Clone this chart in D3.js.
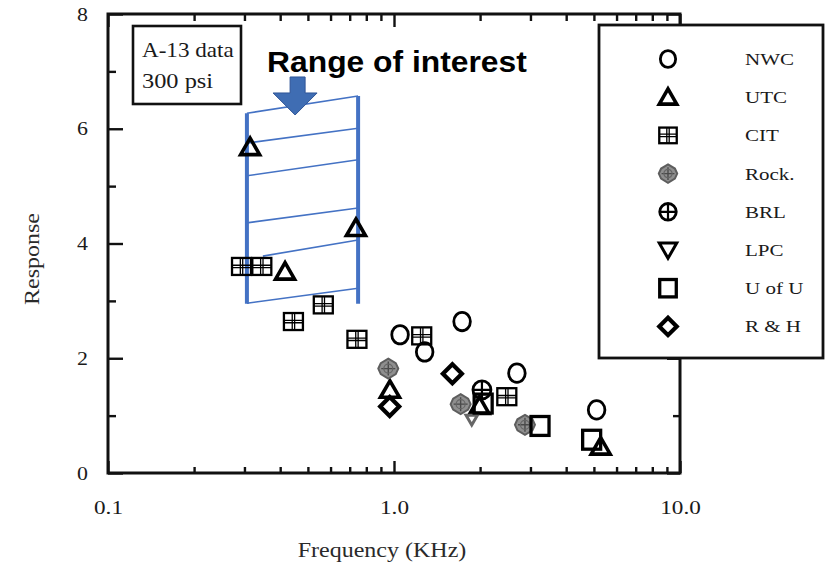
<!DOCTYPE html>
<html><head><meta charset="utf-8">
<script src="https://cdn.jsdelivr.net/npm/d3@7"></script>
<style>body{margin:0;background:#fff} svg{display:block}</style>
</head><body>
<svg id="chart" width="827" height="568"></svg>
<script>
// Measured response vs. frequency (kHz), one pair of arrays per laboratory
const nwcFreq  = [1.05, 1.28, 1.73, 2.69, 5.11];
const nwcResp  = [2.41, 2.11, 2.64, 1.74, 1.10];
const utcFreq  = [0.314, 0.416, 0.736, 0.968, 1.99, 5.28];
const utcResp  = [5.68, 3.51, 4.27, 1.45, 1.17, 0.46];
const citFreq  = [0.293, 0.345, 0.445, 0.566, 0.742, 1.25, 2.48];
const citResp  = [3.60, 3.60, 2.64, 2.93, 2.33, 2.39, 1.33];
const rockFreq = [0.955, 1.71, 2.87];
const rockResp = [1.82, 1.20, 0.84];
const brlFreq  = [2.03];
const brlResp  = [1.45];
const lpcFreq  = [1.87];
const lpcResp  = [0.93];
const uofuFreq = [2.05, 3.24, 4.91];
const uofuResp = [1.21, 0.82, 0.58];
const rhFreq   = [0.966, 1.60];
const rhResp   = [1.16, 1.73];

const seriesNames = ["NWC", "UTC", "CIT", "Rock.", "BRL", "LPC", "U of U", "R & H"];
const seriesShapes = ["circle", "triUp", "cit", "rock", "brl", "triDown", "square", "diamond"];

const xMajorTicks = [0.1, 1, 10];
const xTickLabels = ["0.1", "1.0", "10.0"];
const xMinorTicks = [0.2, 0.3, 0.4, 0.5, 0.6, 0.7, 0.8, 0.9, 2, 3, 4, 5, 6, 7, 8, 9];
const yMajorTicks = [0, 2, 4, 6, 8];
const yMinorTicks = [1, 3, 5, 7];

// Highlighted band ("Range of interest"): frequency bounds and hatch lines
const rangeFreq   = [0.306, 0.749];
const rangeTop    = [6.27, 6.57];
const rangeBottom = 2.95;
const hatchStart  = [0.306, 0.306, 0.306, 0.306, 0.348, 0.306];
const hatchLeft   = [6.27, 5.75, 5.18, 4.36, 3.78, 2.96];
const hatchRight  = [6.57, 6.01, 5.46, 4.62, 4.06, 3.22];
const arrowTip    = [0.451, 6.24];
const calloutText = "Range of interest";
const calloutAt   = [0.360, 6.99];

const insetLines = ["A-13 data", "300 psi"];
const xTitle = "Frequency (KHz)";
const yTitle = "Response";

const series = [
  {freq: nwcFreq,  resp: nwcResp},
  {freq: utcFreq,  resp: utcResp},
  {freq: citFreq,  resp: citResp},
  {freq: rockFreq, resp: rockResp},
  {freq: brlFreq,  resp: brlResp},
  {freq: lpcFreq,  resp: lpcResp},
  {freq: uofuFreq, resp: uofuResp},
  {freq: rhFreq,   resp: rhResp}
].map((s, i) => ({name: seriesNames[i], shape: seriesShapes[i],
  points: s.freq.map((f, j) => ({f, r: s.resp[j]}))}));

const svg = d3.select("#chart");
const plotL = 108, plotR = 680, plotT = 14, plotB = 473;
const x = d3.scaleLog().domain([0.1, 10]).range([plotL, plotR]);
const y = d3.scaleLinear().domain([0, 8]).range([plotB, plotT]);
const serif = "'Liberation Serif', 'Times New Roman', serif";
const ink = "#1a1a1a";

// widen text horizontally (typewriter-like face of the original plot)
function stretch(sel, k) {
  sel.each(function () {
    const w = this.getComputedTextLength();
    this.setAttribute("textLength", w * k);
    this.setAttribute("lengthAdjust", "spacingAndGlyphs");
  });
}

// Marker drawing
function drawShape(g, shape, s, color) {
  const c = color || "#000";
  if (shape === "circle") {
    g.append("ellipse").attr("rx", 8.3 * s).attr("ry", 9.2 * s)
      .attr("fill", "none").attr("stroke", c).attr("stroke-width", 2.8);
  } else if (shape === "triUp") {
    g.append("path").attr("d", `M0,${-9 * s}L${9.5 * s},${7.5 * s}L${-9.5 * s},${7.5 * s}Z`)
      .attr("fill", "none").attr("stroke", c).attr("stroke-width", 3.6).attr("stroke-linejoin", "miter");
  } else if (shape === "triDown") {
    g.append("path").attr("d", `M0,${9 * s}L${9.5 * s},${-7.5 * s}L${-9.5 * s},${-7.5 * s}Z`)
      .attr("fill", "none").attr("stroke", c).attr("stroke-width", 3).attr("stroke-linejoin", "miter");
  } else if (shape === "cit") {
    const w = 9.5 * s, h = 8.5 * s;
    g.append("rect").attr("x", -w).attr("y", -h).attr("width", 2 * w).attr("height", 2 * h)
      .attr("fill", "none").attr("stroke", c).attr("stroke-width", 2.3);
    g.append("path").attr("d", `M${-w},-1.2H${w}M${-w},1.2H${w}M-1.2,${-h}V${h}M1.2,${-h}V${h}`)
      .attr("stroke", c).attr("stroke-width", 1.3).attr("fill", "none");
  } else if (shape === "rock") {
    const r = 10 * s;
    g.append("path").attr("d", `M0,${-r}L${r * 0.75},${-r * 0.55}L${r},0L${r * 0.75},${r * 0.55}L0,${r}L${-r * 0.75},${r * 0.55}L${-r},0L${-r * 0.75},${-r * 0.55}Z`)
      .attr("fill", "#8f8f8f").attr("stroke", "#5e5e5e").attr("stroke-width", 2);
    g.append("path").attr("d", `M${-r * 0.7},0H${r * 0.7}M0,${-r * 0.7}V${r * 0.7}`)
      .attr("stroke", "#4a4a4a").attr("stroke-width", 1.4);
    g.append("ellipse").attr("rx", r * 0.45).attr("ry", r * 0.45)
      .attr("fill", "none").attr("stroke", "#666").attr("stroke-width", 1.2);
  } else if (shape === "brl") {
    const r = 9 * s;
    g.append("circle").attr("r", r).attr("fill", "none").attr("stroke", c).attr("stroke-width", 2.8);
    g.append("path").attr("d", `M${-r},0H${r}M0,${-r}V${r}`).attr("stroke", c).attr("stroke-width", 2.2);
  } else if (shape === "square") {
    const h = 9 * s;
    g.append("rect").attr("x", -h).attr("y", -h * 1.05).attr("width", 2 * h).attr("height", 2.1 * h)
      .attr("fill", "none").attr("stroke", c).attr("stroke-width", 3.3);
  } else if (shape === "diamond") {
    const r = 9.5 * s;
    g.append("path").attr("d", `M0,${-r}L${r},0L0,${r}L${-r},0Z`)
      .attr("fill", "none").attr("stroke", c).attr("stroke-width", 4.2).attr("stroke-linejoin", "miter");
  }
}

// Axes: ticks point inward on all four sides
function styleAxis(g) {
  g.select(".domain").remove();
  g.selectAll(".tick line").attr("stroke", "#111").attr("stroke-width", 2.4);
  g.selectAll("text").attr("fill", ink).attr("font-family", serif).attr("font-size", 19);
}
const gx = svg.append("g").attr("transform", `translate(0,${plotB})`)
  .call(d3.axisBottom(x).tickValues(xMajorTicks).tickSizeInner(-12).tickSizeOuter(0)
    .tickPadding(28).tickFormat((d, i) => xTickLabels[i]));
styleAxis(gx);
const gxm = svg.append("g").attr("transform", `translate(0,${plotB})`)
  .call(d3.axisBottom(x).tickValues(xMinorTicks).tickSizeInner(-6).tickSizeOuter(0).tickFormat(""));
styleAxis(gxm);
const gt = svg.append("g").attr("transform", `translate(0,${plotT})`)
  .call(d3.axisTop(x).tickValues(xMajorTicks).tickSizeInner(-13).tickSizeOuter(0).tickFormat(""));
styleAxis(gt);
const gtm = svg.append("g").attr("transform", `translate(0,${plotT})`)
  .call(d3.axisTop(x).tickValues(xMinorTicks).tickSizeInner(-7).tickSizeOuter(0).tickFormat(""));
styleAxis(gtm);
const gy = svg.append("g").attr("transform", `translate(${plotL},0)`)
  .call(d3.axisLeft(y).tickValues(yMajorTicks).tickSizeInner(-15).tickSizeOuter(0)
    .tickPadding(20).tickFormat(d3.format("d")));
styleAxis(gy);
const gym = svg.append("g").attr("transform", `translate(${plotL},0)`)
  .call(d3.axisLeft(y).tickValues(yMinorTicks).tickSizeInner(-8).tickSizeOuter(0).tickFormat(""));
styleAxis(gym);
const gr = svg.append("g").attr("transform", `translate(${plotR},0)`)
  .call(d3.axisRight(y).tickValues(yMajorTicks).tickSizeInner(-13).tickSizeOuter(0).tickFormat(""));
styleAxis(gr);
const grm = svg.append("g").attr("transform", `translate(${plotR},0)`)
  .call(d3.axisRight(y).tickValues(yMinorTicks).tickSizeInner(-7).tickSizeOuter(0).tickFormat(""));
styleAxis(grm);
stretch(gx.selectAll("text"), 1.22);
stretch(gy.selectAll("text"), 1.15);

// Plot frame
svg.append("rect").attr("x", plotL).attr("y", plotT).attr("width", plotR - plotL).attr("height", plotB - plotT)
  .attr("fill", "none").attr("stroke", "#111").attr("stroke-width", 3);

// Axis titles
const xt = svg.append("text").attr("x", 382).attr("y", 557).attr("text-anchor", "middle")
  .attr("font-family", serif).attr("font-size", 20).attr("fill", "#2a2a2a").text(xTitle);
stretch(xt, 1.2);
const yt = svg.append("text").attr("transform", "translate(39,259) rotate(-90)").attr("text-anchor", "middle")
  .attr("font-family", serif).attr("font-size", 20).attr("fill", "#2a2a2a").text(yTitle);
stretch(yt, 1.2);

// Inset note box
svg.append("rect").attr("x", plotL + 25).attr("y", plotT + 12).attr("width", 108).attr("height", 78)
  .attr("fill", "#fff").attr("stroke", "#111").attr("stroke-width", 2.6);
insetLines.forEach((t, i) => {
  const tx = svg.append("text").attr("x", plotL + 34).attr("y", plotT + 43 + i * 31)
    .attr("font-family", serif).attr("font-size", 21).attr("fill", ink).text(t);
  stretch(tx, i === 0 ? 1.1 : 1.16);
});

// Range of interest band
const blue = "#4472c4";
const band = svg.append("g");
hatchStart.forEach((f0, i) => {
  band.append("line").attr("x1", x(f0)).attr("y1", y(hatchLeft[i]))
    .attr("x2", x(rangeFreq[1])).attr("y2", y(hatchRight[i]))
    .attr("stroke", blue).attr("stroke-width", 1.6);
});
band.append("line").attr("x1", x(rangeFreq[0])).attr("x2", x(rangeFreq[0]))
  .attr("y1", y(rangeTop[0])).attr("y2", y(rangeBottom)).attr("stroke", blue).attr("stroke-width", 4);
band.append("line").attr("x1", x(rangeFreq[1])).attr("x2", x(rangeFreq[1]))
  .attr("y1", y(rangeTop[1])).attr("y2", y(rangeBottom)).attr("stroke", blue).attr("stroke-width", 4);

// Block arrow pointing at the band
const ax = x(arrowTip[0]), ay = y(arrowTip[1]);
svg.append("path")
  .attr("d", `M${ax - 5},${ay - 38}H${ax + 10}V${ay - 22}H${ax + 22}L${ax},${ay}L${ax - 22},${ay - 22}H${ax - 5}Z`)
  .attr("fill", "#3f6db3").attr("stroke", "#2f5597").attr("stroke-width", 1);

const callout = svg.append("text").attr("x", x(calloutAt[0])).attr("y", y(calloutAt[1]))
  .attr("font-family", "'Liberation Sans', Arial, sans-serif").attr("font-weight", "bold")
  .attr("font-size", 30).attr("fill", "#000").text(calloutText);
stretch(callout, 1.06);

// Data markers
series.forEach(s => {
  const muted = s.shape === "triDown";
  svg.append("g").selectAll("g").data(s.points).join("g")
    .attr("transform", d => `translate(${x(d.f)},${y(d.r)})`)
    .each(function () { drawShape(d3.select(this), s.shape, muted ? 0.6 : 1, muted ? "#666" : "#000"); });
});

// Legend
const lg = svg.append("g");
lg.append("rect").attr("x", 599).attr("y", 25).attr("width", 224).attr("height", 333)
  .attr("fill", "#fff").attr("stroke", "#111").attr("stroke-width", 2.8);
series.forEach((s, i) => {
  const ry = 59 + i * 38.2;
  const g = lg.append("g").attr("transform", `translate(668,${ry})`);
  drawShape(g, s.shape, 0.92, "#000");
  const t = lg.append("text").attr("x", 745).attr("y", ry + 6).attr("font-family", serif)
    .attr("font-size", 17.5).attr("fill", ink).text(s.name);
  stretch(t, 1.2);
});
</script>
</body></html>
